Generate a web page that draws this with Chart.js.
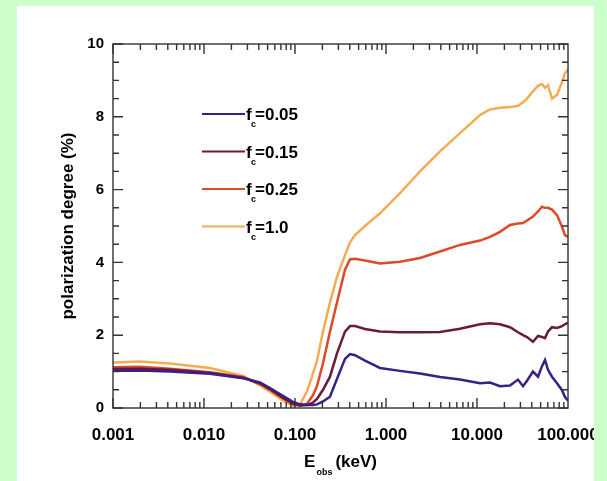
<!DOCTYPE html>
<html><head><meta charset="utf-8">
<script src="https://cdn.jsdelivr.net/npm/chart.js@4/dist/chart.umd.min.js"></script>
<style>
html,body{margin:0;padding:0;background:#ccffcc;width:607px;height:481px;overflow:hidden}
#panel{position:absolute;left:17px;top:6px;width:577px;height:475px;background:#fff}
#c{position:absolute;left:0;top:0}
#edge{position:absolute;left:594px;top:0;width:13px;height:481px;background:#ccffcc}
</style></head><body>
<div id="panel"></div>
<canvas id="c" width="607" height="481"></canvas>
<div id="edge"></div>
<script>
// Energy grid (keV)
const energies = [0.001, 0.00198, 0.00423, 0.01164, 0.02683, 0.04124, 0.05312, 0.07196, 0.09506, 0.1135,
  0.1355, 0.1577, 0.1745, 0.2031, 0.2424, 0.2893, 0.3543, 0.4022, 0.4564, 0.5877,
  0.8592, 1.425, 2.364, 3.921, 6.505, 10.79, 13.90, 17.89, 23.05, 28.22,
  32.03, 35.44, 41.24, 46.80, 51.81, 55.89, 60.29, 66.70, 75.70, 85.94, 92.68, 100];

// Polarization degree (%)
const pol_fc005 = [1.02, 1.03, 1.00, 0.94, 0.82, 0.70, 0.55, 0.35, 0.17, 0.10,
  0.08, 0.08, 0.10, 0.18, 0.31, 0.80, 1.35, 1.48, 1.45, 1.30,
  1.10, 1.02, 0.95, 0.85, 0.78, 0.68, 0.70, 0.60, 0.62, 0.78,
  0.60, 0.75, 1.00, 0.86, 1.15, 1.32, 1.05, 0.86, 0.68, 0.49, 0.30, 0.20];
const pol_fc015 = [1.07, 1.08, 1.05, 0.96, 0.83, 0.68, 0.52, 0.30, 0.12, 0.07,
  0.08, 0.15, 0.25, 0.50, 0.86, 1.50, 2.10, 2.25, 2.25, 2.17,
  2.10, 2.08, 2.08, 2.09, 2.18, 2.30, 2.33, 2.30, 2.22, 2.08,
  2.00, 1.95, 1.82, 1.98, 1.95, 1.92, 2.10, 2.22, 2.20, 2.25, 2.30, 2.35];
const pol_fc025 = [1.12, 1.13, 1.08, 0.98, 0.85, 0.66, 0.50, 0.28, 0.10, 0.06,
  0.12, 0.35, 0.60, 1.23, 2.10, 2.90, 3.80, 4.08, 4.10, 4.05,
  3.97, 4.02, 4.12, 4.30, 4.48, 4.60, 4.70, 4.84, 5.03, 5.07,
  5.08, 5.15, 5.26, 5.40, 5.53, 5.50, 5.50, 5.45, 5.30, 4.98, 4.75, 4.70];
const pol_fc100 = [1.25, 1.28, 1.22, 1.10, 0.88, 0.62, 0.45, 0.22, 0.06, 0.10,
  0.45, 0.95, 1.30, 2.10, 2.90, 3.60, 4.20, 4.55, 4.75, 5.00,
  5.35, 5.90, 6.50, 7.05, 7.55, 8.05, 8.20, 8.25, 8.27, 8.30,
  8.40, 8.50, 8.70, 8.85, 8.90, 8.80, 8.87, 8.50, 8.60, 8.95, 9.20, 9.30];

const seriesNames = ['0.05', '0.15', '0.25', '1.0'];
const seriesColors = ['#3b1f86', '#6a1a3c', '#dc4a28', '#f2ac55'];
const seriesValues = [pol_fc005, pol_fc015, pol_fc025, pol_fc100];

const xTickValues = [0.001, 0.01, 0.1, 1, 10, 100];
const xTickLabels = ['0.001', '0.010', '0.100', '1.000', '10.000', '100.000'];
const yTickLabels = ['0', '2', '4', '6', '8', '10'];

const FONT = "'Liberation Sans', Arial, Helvetica, sans-serif";

const datasets = seriesValues.map((vals, i) => ({
  label: 'f_c=' + seriesNames[i],
  data: energies.map((e, k) => ({x: e, y: vals[k]})),
  borderColor: seriesColors[i],
  borderWidth: 2.5,
  pointRadius: 0,
  tension: 0,
  fill: false
}));

const framePlugin = {
  id: 'frame',
  afterDatasetsDraw(chart) {
    const {ctx, chartArea: a, scales: {x, y}} = chart;
    ctx.save();
    ctx.strokeStyle = '#333';
    ctx.lineWidth = 1.4;
    ctx.strokeRect(a.left, a.top, a.right - a.left, a.bottom - a.top);
    ctx.beginPath();
    for (let k = 0; k <= 20; k++) {
      const v = k * 0.5;
      const py = y.getPixelForValue(v);
      const L = (k % 4 === 0) ? 10 : 6;
      ctx.moveTo(a.left, py); ctx.lineTo(a.left + L, py);
      ctx.moveTo(a.right, py); ctx.lineTo(a.right - L, py);
    }
    for (let d = -3; d <= 1; d++) {
      for (let m = 1; m <= 9; m++) {
        const px = x.getPixelForValue(m * Math.pow(10, d));
        const L = (m === 1) ? 10 : 6;
        ctx.moveTo(px, a.bottom); ctx.lineTo(px, a.bottom - L);
        ctx.moveTo(px, a.top); ctx.lineTo(px, a.top + L);
      }
    }
    ctx.stroke();
    ctx.restore();
  },
  afterDraw(chart) {
    const {ctx, chartArea: a} = chart;
    ctx.save();
    ctx.fillStyle = '#000';
    // legend
    const lx0 = a.left + 89, lx1 = a.left + 132, ly0 = a.top + 70, dy = 37.5;
    seriesNames.forEach((name, i) => {
      const ly = ly0 + i * dy;
      ctx.strokeStyle = seriesColors[i];
      ctx.lineWidth = 2;
      ctx.beginPath(); ctx.moveTo(lx0, ly); ctx.lineTo(lx1, ly); ctx.stroke();
      ctx.textBaseline = 'alphabetic';
      ctx.textAlign = 'left';
      ctx.font = 'bold 17px ' + FONT;
      ctx.fillText('f', lx1 + 1, ly + 6);
      ctx.font = 'bold 9px ' + FONT;
      ctx.fillText('c', lx1 + 6, ly + 13);
      ctx.font = 'bold 17px ' + FONT;
      ctx.fillText('=' + name, lx1 + 10, ly + 6);
    });
    // x axis title with subscript
    const cx = (a.left + a.right) / 2;
    ctx.font = 'bold 17px ' + FONT;
    const wE = ctx.measureText('E').width;
    const wK = ctx.measureText('(keV)').width;
    ctx.font = 'bold 9px ' + FONT;
    const wS = ctx.measureText('obs').width;
    const total = wE + wS + 4 + wK;
    let sx = cx - total / 2;
    const by = a.bottom + 59;
    ctx.font = 'bold 17px ' + FONT;
    ctx.fillText('E', sx, by);
    ctx.font = 'bold 9px ' + FONT;
    ctx.fillText('obs', sx + wE + 1, by + 8);
    ctx.font = 'bold 17px ' + FONT;
    ctx.fillText('(keV)', sx + wE + wS + 4, by);
    ctx.restore();
  }
};

new Chart(document.getElementById('c'), {
  type: 'line',
  data: {datasets},
  plugins: [framePlugin],
  options: {
    responsive: false,
    animation: false,
    layout: {padding: {left: 0, right: 39, top: 44, bottom: 0}},
    plugins: {legend: {display: false}, tooltip: {enabled: false}},
    scales: {
      x: {
        type: 'logarithmic',
        min: 0.001, max: 100,
        grid: {display: false, drawTicks: false},
        border: {display: false},
        afterBuildTicks: s => { s.ticks = xTickValues.map(v => ({value: v, major: true})); },
        afterFit: s => { s.height = 73; s.paddingLeft = 0; s.paddingRight = 0; },
        ticks: {
          autoSkip: false, maxRotation: 0, padding: 17,
          color: '#000',
          font: {family: FONT, size: 17, weight: 'bold'},
          callback: (v, i) => xTickLabels[i]
        }
      },
      y: {
        type: 'linear',
        min: 0, max: 10,
        grid: {display: false, drawTicks: false},
        border: {display: false},
        afterBuildTicks: s => { s.ticks = yTickLabels.map(t => ({value: Number(t)})); },
        afterFit: s => { s.width = 113; s.paddingTop = 0; s.paddingBottom = 0; },
        ticks: {
          padding: 9, color: '#000',
          font: {family: FONT, size: 15, weight: 'bold'},
          callback: (v, i) => yTickLabels[i]
        },
        title: {
          display: true, text: 'polarization degree (%)', color: '#000',
          font: {family: FONT, size: 17, weight: 'bold'},
          padding: {top: 58, bottom: 0}
        }
      }
    }
  }
});
</script>
</body></html>
